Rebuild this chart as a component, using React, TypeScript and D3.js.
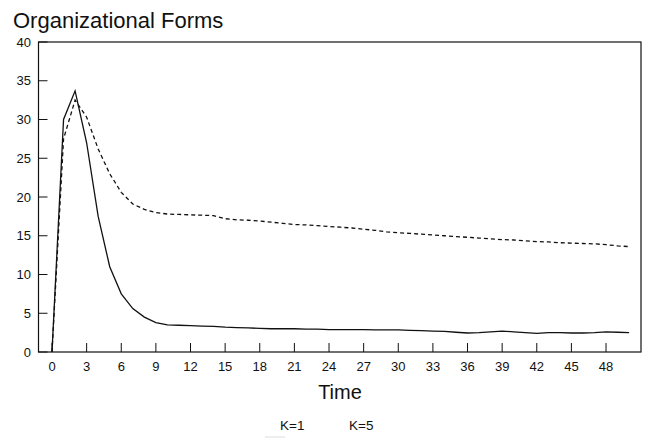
import React from "react";
import * as d3 from "d3";

const times = d3.range(0, 51);
const k1Values = [
  0, 30, 33.7, 27, 17.5, 11.0, 7.5, 5.6, 4.5, 3.8,
  3.5, 3.45, 3.4, 3.35, 3.3, 3.2, 3.15, 3.1, 3.05, 3.0,
  3.0, 3.0, 2.95, 2.95, 2.9, 2.9, 2.9, 2.9, 2.85, 2.85,
  2.85, 2.8, 2.75, 2.7, 2.65, 2.55, 2.45, 2.5, 2.6, 2.7,
  2.6, 2.5, 2.4, 2.5, 2.5, 2.45, 2.45, 2.5, 2.6, 2.55,
  2.5,
];
const k5Values = [
  0, 27.5, 32.5, 30.3, 26.2, 23.0, 20.6, 19.1, 18.4, 18.0,
  17.8, 17.75, 17.7, 17.65, 17.6, 17.2, 17.05, 17.0, 16.9, 16.75,
  16.6, 16.45, 16.4, 16.3, 16.2, 16.1, 16.0, 15.85, 15.7, 15.5,
  15.4, 15.3, 15.2, 15.1, 15.0, 14.9, 14.8, 14.7, 14.6, 14.5,
  14.45, 14.35, 14.25, 14.2, 14.1, 14.05, 14.0, 13.95, 13.85, 13.7,
  13.6,
];
const xTicks = [0, 3, 6, 9, 12, 15, 18, 21, 24, 27, 30, 33, 36, 39, 42, 45, 48];
const yTicks = [0, 5, 10, 15, 20, 25, 30, 35, 40];
const legendLabels = ["K=1", "K=5"];

const W = 650;
const H = 438;
const font = "Liberation Sans, Arial, Helvetica, sans-serif";

export default function App() {
  const x = d3.scaleLinear().domain([-1.17, 51.03]).range([38.5, 641]);
  const y = d3.scaleLinear().domain([0, 40]).range([352, 42]);
  const line = d3
    .line<number>()
    .x((_, i) => x(times[i]))
    .y((d) => y(d));

  return (
    <svg
      width={W}
      height={H}
      style={{ position: "absolute", left: 0, top: 0, background: "#fff" }}
      fontFamily={font}
    >
      <rect x={0} y={0} width={W} height={H} fill="#fff" />
      <text x={13} y={28} fontSize={22} fill="#111">
        Organizational Forms
      </text>
      <rect
        x={x.range()[0]}
        y={y.range()[1]}
        width={x.range()[1] - x.range()[0]}
        height={y.range()[0] - y.range()[1]}
        fill="none"
        stroke="#111"
        strokeWidth={1.2}
      />
      {yTicks.map((t) => (
        <g key={"y" + t}>
          <line
            x1={x.range()[0]}
            x2={x.range()[0] + 9}
            y1={y(t)}
            y2={y(t)}
            stroke="#111"
            strokeWidth={1}
          />
          <text
            x={31}
            y={y(t)}
            dy="0.35em"
            textAnchor="end"
            fontSize={13}
            fill="#111"
          >
            {t}
          </text>
        </g>
      ))}
      {xTicks.map((t) => (
        <g key={"x" + t}>
          <line
            x1={x(t)}
            x2={x(t)}
            y1={y(0)}
            y2={y(0) - 9}
            stroke="#111"
            strokeWidth={1}
          />
          <text x={x(t)} y={371} textAnchor="middle" fontSize={13} fill="#111">
            {t}
          </text>
        </g>
      ))}
      <path
        d={line(k1Values) || ""}
        fill="none"
        stroke="#111"
        strokeWidth={1.3}
      />
      <path
        d={line(k5Values) || ""}
        fill="none"
        stroke="#111"
        strokeWidth={1.3}
        strokeDasharray="4,3"
      />
      <text x={340} y={399} textAnchor="middle" fontSize={20} fill="#111">
        Time
      </text>
      <text x={280} y={430} fontSize={13.5} fill="#111">
        {legendLabels[0]}
      </text>
      <text x={349} y={430} fontSize={13.5} fill="#111">
        {legendLabels[1]}
      </text>
      <line x1={265} x2={285} y1={437} y2={437} stroke="#ddd" strokeWidth={1} />
    </svg>
  );
}
